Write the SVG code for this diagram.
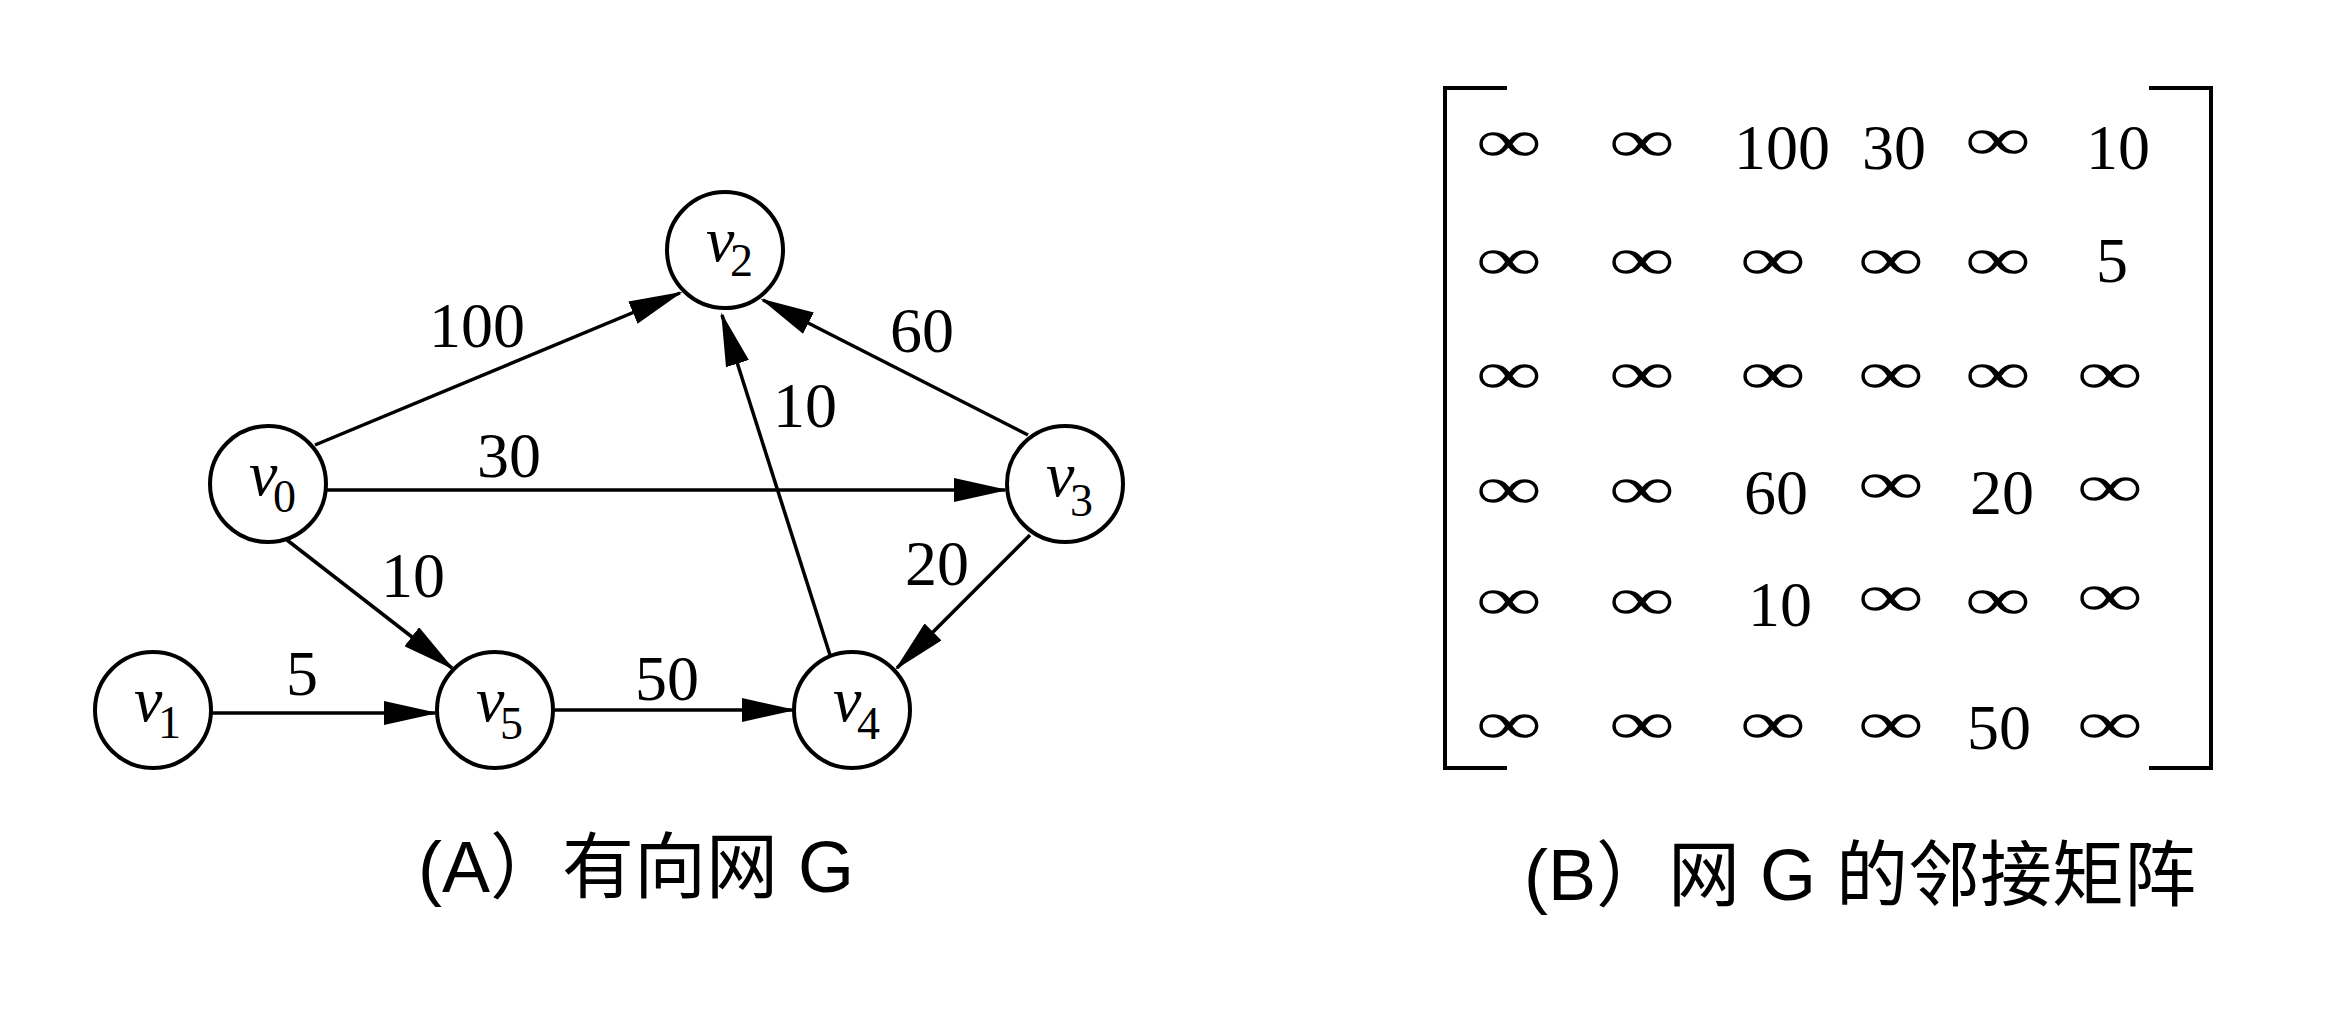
<svg xmlns="http://www.w3.org/2000/svg" width="2340" height="1029" viewBox="0 0 2340 1029">
<defs>
<marker id="arr" markerUnits="userSpaceOnUse" viewBox="0 0 54 24" markerWidth="54" markerHeight="24" refX="51" refY="12" orient="auto">
<path d="M0,0 L54,12 L0,24 z" fill="#000"/>
</marker>
</defs>
<style>
.node circle{fill:#fff;stroke:#000;stroke-width:4}
.lbl{font-family:"Liberation Serif","Times New Roman",serif;font-size:64px;fill:#000}
.v{font-style:italic}
.sub{font-size:46px;font-style:normal}
.edge{stroke:#000;stroke-width:3.5;fill:none;marker-end:url(#arr)}
.wt{font-family:"Liberation Serif","Times New Roman",serif;font-size:64px;fill:#000;text-anchor:middle}
.num{font-family:"Liberation Serif","Times New Roman",serif;font-size:64px;fill:#000;text-anchor:middle}
.inf{font-family:"Liberation Serif","Times New Roman",serif;font-size:62px;fill:#000;text-anchor:middle}
.brk{stroke:#000;stroke-width:4;fill:none}
.cap{font-family:"Liberation Sans","Noto Sans CJK SC",sans-serif;font-size:72px;fill:#000}
</style>
<rect width="2340" height="1029" fill="#fff"/>

<g id="edges">
<line class="edge" x1="315" y1="445" x2="680" y2="293"/>
<line class="edge" x1="327" y1="490" x2="1005" y2="490"/>
<line class="edge" x1="287" y1="540" x2="452" y2="668"/>
<line class="edge" x1="212" y1="713" x2="435" y2="713"/>
<line class="edge" x1="553" y1="710" x2="793" y2="710"/>
<line class="edge" x1="830" y1="655" x2="722" y2="315"/>
<line class="edge" x1="1028" y1="435" x2="763" y2="300"/>
<line class="edge" x1="1030" y1="535" x2="897" y2="668"/>
<text class="wt" x="477" y="347">100</text>
<text class="wt" x="509" y="477">30</text>
<text class="wt" x="413" y="597">10</text>
<text class="wt" x="302" y="695">5</text>
<text class="wt" x="667" y="700">50</text>
<text class="wt" x="805" y="427">10</text>
<text class="wt" x="922" y="352">60</text>
<text class="wt" x="937" y="585">20</text>
</g>

<g id="v0" class="node"><circle cx="268" cy="484" r="58"/><text class="lbl" x="249" y="495"><tspan class="v">v</tspan><tspan class="sub" x="273" y="512">0</tspan></text></g>
<g id="v1" class="node"><circle cx="153" cy="710" r="58"/><text class="lbl" x="134" y="721"><tspan class="v">v</tspan><tspan class="sub" x="158" y="738">1</tspan></text></g>
<g id="v2" class="node"><circle cx="725" cy="250" r="58"/><text class="lbl" x="706" y="261"><tspan class="v">v</tspan><tspan class="sub" x="730" y="276">2</tspan></text></g>
<g id="v3" class="node"><circle cx="1065" cy="484" r="58"/><text class="lbl" x="1046" y="496"><tspan class="v">v</tspan><tspan class="sub" x="1070" y="516">3</tspan></text></g>
<g id="v4" class="node"><circle cx="852" cy="710" r="58"/><text class="lbl" x="833" y="721"><tspan class="v">v</tspan><tspan class="sub" x="857" y="739">4</tspan></text></g>
<g id="v5" class="node"><circle cx="495" cy="710" r="58"/><text class="lbl" x="476" y="721"><tspan class="v">v</tspan><tspan class="sub" x="500" y="739">5</tspan></text></g>

<g id="matrix">
<path class="brk" d="M1507,88 H1445 V768 H1507"/>
<path class="brk" d="M2149,88 H2211 V768 H2149"/>
<text class="inf" x="1509" y="162" textLength="66" lengthAdjust="spacingAndGlyphs">∞</text>
<text class="inf" x="1642" y="162" textLength="66" lengthAdjust="spacingAndGlyphs">∞</text>
<text class="inf" x="1998" y="160" textLength="66" lengthAdjust="spacingAndGlyphs">∞</text>
<text class="inf" x="1509" y="280" textLength="66" lengthAdjust="spacingAndGlyphs">∞</text>
<text class="inf" x="1642" y="280" textLength="66" lengthAdjust="spacingAndGlyphs">∞</text>
<text class="inf" x="1773" y="280" textLength="66" lengthAdjust="spacingAndGlyphs">∞</text>
<text class="inf" x="1891" y="280" textLength="66" lengthAdjust="spacingAndGlyphs">∞</text>
<text class="inf" x="1998" y="280" textLength="66" lengthAdjust="spacingAndGlyphs">∞</text>
<text class="inf" x="1509" y="394" textLength="66" lengthAdjust="spacingAndGlyphs">∞</text>
<text class="inf" x="1642" y="394" textLength="66" lengthAdjust="spacingAndGlyphs">∞</text>
<text class="inf" x="1773" y="394" textLength="66" lengthAdjust="spacingAndGlyphs">∞</text>
<text class="inf" x="1891" y="394" textLength="66" lengthAdjust="spacingAndGlyphs">∞</text>
<text class="inf" x="1998" y="394" textLength="66" lengthAdjust="spacingAndGlyphs">∞</text>
<text class="inf" x="2110" y="394" textLength="66" lengthAdjust="spacingAndGlyphs">∞</text>
<text class="inf" x="1509" y="509" textLength="66" lengthAdjust="spacingAndGlyphs">∞</text>
<text class="inf" x="1642" y="509" textLength="66" lengthAdjust="spacingAndGlyphs">∞</text>
<text class="inf" x="1891" y="504" textLength="66" lengthAdjust="spacingAndGlyphs">∞</text>
<text class="inf" x="2110" y="507" textLength="66" lengthAdjust="spacingAndGlyphs">∞</text>
<text class="inf" x="1509" y="620" textLength="66" lengthAdjust="spacingAndGlyphs">∞</text>
<text class="inf" x="1642" y="620" textLength="66" lengthAdjust="spacingAndGlyphs">∞</text>
<text class="inf" x="1891" y="617" textLength="66" lengthAdjust="spacingAndGlyphs">∞</text>
<text class="inf" x="1998" y="620" textLength="66" lengthAdjust="spacingAndGlyphs">∞</text>
<text class="inf" x="2110" y="616" textLength="66" lengthAdjust="spacingAndGlyphs">∞</text>
<text class="inf" x="1509" y="744" textLength="66" lengthAdjust="spacingAndGlyphs">∞</text>
<text class="inf" x="1642" y="744" textLength="66" lengthAdjust="spacingAndGlyphs">∞</text>
<text class="inf" x="1773" y="744" textLength="66" lengthAdjust="spacingAndGlyphs">∞</text>
<text class="inf" x="1891" y="744" textLength="66" lengthAdjust="spacingAndGlyphs">∞</text>
<text class="inf" x="2110" y="744" textLength="66" lengthAdjust="spacingAndGlyphs">∞</text>
<text class="num" x="1782" y="169">100</text>
<text class="num" x="1894" y="169">30</text>
<text class="num" x="2118" y="169">10</text>
<text class="num" x="2112" y="282">5</text>
<text class="num" x="1776" y="514">60</text>
<text class="num" x="2002" y="514">20</text>
<text class="num" x="1780" y="626">10</text>
<text class="num" x="1999" y="749">50</text>
</g>

<text class="cap" x="418" y="892">(A）有向网 G</text>
<text class="cap" x="1524" y="900">(B）网 G 的邻接矩阵</text>
</svg>
